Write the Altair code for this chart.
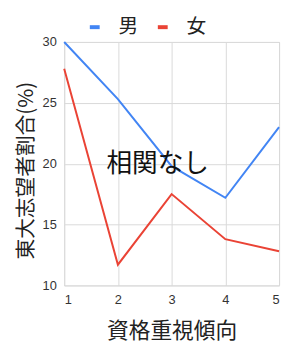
import altair as alt
import pandas as pd

x_vals = [1, 2, 3, 4, 5]
male = [30.0, 25.3, 19.8, 17.2, 23.0]
female = [27.8, 11.7, 17.5, 13.8, 12.8]
series = ["男", "女"]
colors = ["#4285F4", "#EA4335"]

rows = []
for s, vals in zip(series, [male, female]):
    for x, v in zip(x_vals, vals):
        rows.append({"x": x, "value": v, "series": s})
df = pd.DataFrame(rows)

jp = "Noto Sans CJK JP"

lines = alt.Chart(df).mark_line(strokeWidth=2).encode(
    x=alt.X("x:Q", scale=alt.Scale(domain=[1, 5], nice=False),
            axis=alt.Axis(values=x_vals, title="資格重視傾向", format="d",
                          titleFont=jp, titleFontSize=22, titleFontWeight="normal",
                          titleColor="#222", titlePadding=15,
                          labelFont="Liberation Sans", labelFontSize=13, labelColor="#333",
                          labelPadding=8, tickSize=0, gridColor="#d9d9d9", domain=False)),
    y=alt.Y("value:Q", scale=alt.Scale(domain=[10, 30], nice=False),
            axis=alt.Axis(values=[10, 15, 20, 25, 30], title="東大志望者割合(%)",
                          titleFont=jp, titleFontSize=21, titleFontWeight="normal",
                          titleColor="#222", titlePadding=6, titleY=130,
                          labelFont="Liberation Sans", labelFontSize=13, labelColor="#333",
                          labelPadding=8, tickSize=0, gridColor="#d9d9d9", domain=False)),
    color=alt.Color("series:N", scale=alt.Scale(domain=series, range=colors),
                    legend=alt.Legend(orient="none", legendX=21, legendY=-25,
                                      direction="horizontal", title=None,
                                      symbolType="stroke",
                                      symbolStrokeWidth=4, symbolSize=100,
                                      labelOffset=14,
                                      labelFont=jp, labelFontSize=20, labelColor="#222",
                                      columnPadding=12)),
)

ann = pd.DataFrame({"x": [2.74], "y": [20.0], "t": ["相関なし"]})
text = alt.Chart(ann).mark_text(font=jp, fontSize=26, color="#111", baseline="middle").encode(
    x="x:Q", y="y:Q", text="t:N"
)

chart = (lines + text).properties(
    width=218, height=247,
    autosize=alt.AutoSizeParams(type="none"),
    padding={"left": 57, "top": 32, "right": 4, "bottom": 58},
).configure_view(stroke="#d9d9d9")

chart.save("out.html", embed_options={"renderer": "svg", "actions": False})
